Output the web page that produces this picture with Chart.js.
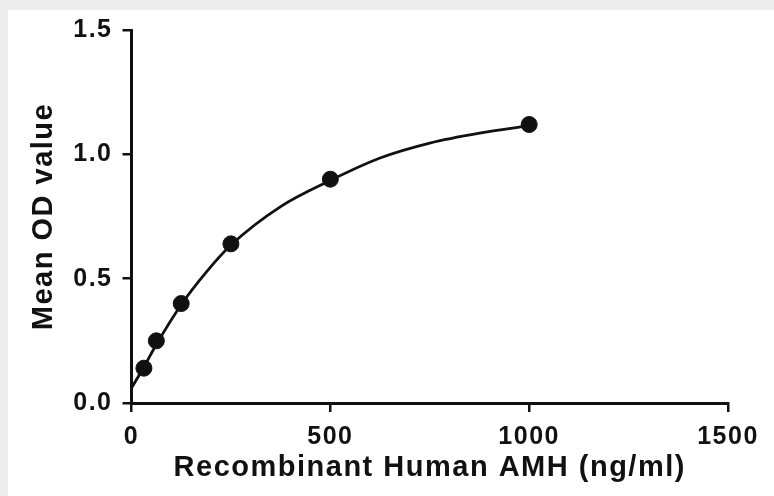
<!DOCTYPE html>
<html>
<head>
<meta charset="utf-8">
<script src="https://cdn.jsdelivr.net/npm/chart.js@4/dist/chart.umd.min.js"></script>
<style>
  html, body { margin: 0; padding: 0; background: #ececec; }
  #wrap { position: absolute; left: 8px; top: 10px; width: 766px; height: 486px; background: #fff; }
</style>
</head>
<body>
<div id="wrap"><canvas id="stdCurve"></canvas></div>
<script>
// standards (ng/ml) and their mean OD
const concX = [31.25, 62.5, 125, 250, 500, 1000]
const meanOD = [0.14, 0.25, 0.40, 0.64, 0.90, 1.12]
// fitted curve
const fitX = [0, 31.25, 62.5, 125, 187.5, 250, 375, 500, 625, 750, 875, 1000]
const fitOD = [0.06, 0.145, 0.235, 0.395, 0.525, 0.635, 0.79, 0.895, 0.985, 1.045, 1.085, 1.115]
// axes
const xTicks = [0, 500, 1000, 1500]
const yTicks = [0.0, 0.5, 1.0, 1.5]
const xTitle = 'Recombinant Human AMH (ng/ml)'
const yTitle = 'Mean OD value'

function toPoints(xs, ys) {
    let pts = []
    for (let i = 0; i < xs.length; i++) {
        pts.push({x: xs[i], y: ys[i]})
    }
    return pts
}

const ink = '#111'
const family = '"Liberation Sans", Arial, sans-serif'

// prism-like spacing between letters
const spacing = {
    id: 'spacing',
    beforeDraw(chart) { chart.ctx.letterSpacing = '1.5px' }
}

const data = {
    datasets: [{
        label: 'standards',
        data: toPoints(concX, meanOD),
        showLine: false,
        pointRadius: 8,
        pointBackgroundColor: ink,
        pointBorderColor: ink,
        order: 0
    }, {
        label: 'fit',
        data: toPoints(fitX, fitOD),
        showLine: true,
        pointRadius: 0,
        borderColor: ink,
        borderWidth: 2.8,
        cubicInterpolationMode: 'monotone',
        order: 1
    }]
}

const config = {
    type: 'scatter',
    data,
    plugins: [spacing],
    options: {
        responsive: true,
        maintainAspectRatio: false,
        animation: false,
        layout: { padding: { top: 20, right: 46, bottom: 0, left: 0 } },
        plugins: { legend: { display: false }, tooltip: { enabled: false } },
        scales: {
            x: {
                type: 'linear',
                min: 0,
                max: 1500,
                afterFit: s => { s.height = 93; s.paddingLeft = 0; s.paddingRight = 0 },
                afterBuildTicks: s => { s.ticks = xTicks.map(v => ({value: v})) },
                border: { display: true, color: ink, width: 3 },
                grid: { drawOnChartArea: false, drawTicks: true, tickLength: 9, color: ink, lineWidth: 2.5 },
                ticks: { color: ink, padding: 10, font: { family, size: 25, weight: 'bold' }, maxRotation: 0, callback: v => String(v) },
                title: { display: true, text: xTitle, color: ink, padding: { top: 0, bottom: 11 }, font: { family, size: 29, weight: 'bold' } }
            },
            y: {
                type: 'linear',
                min: 0,
                max: 1.5,
                afterFit: s => { s.width = 123.5; s.paddingTop = 0; s.paddingBottom = 0 },
                afterBuildTicks: s => { s.ticks = yTicks.map(v => ({value: v})) },
                border: { display: true, color: ink, width: 3 },
                grid: { drawOnChartArea: false, drawTicks: true, tickLength: 9, color: ink, lineWidth: 2.5 },
                ticks: { color: ink, padding: 10, font: { family, size: 25, weight: 'bold' }, callback: v => v.toFixed(1) },
                title: { display: true, text: yTitle, color: ink, padding: { top: 19, bottom: 0 }, font: { family, size: 29, weight: 'bold' } }
            }
        }
    }
}

var myChart = new Chart(document.getElementById('stdCurve'), config)
</script>
</body>
</html>
